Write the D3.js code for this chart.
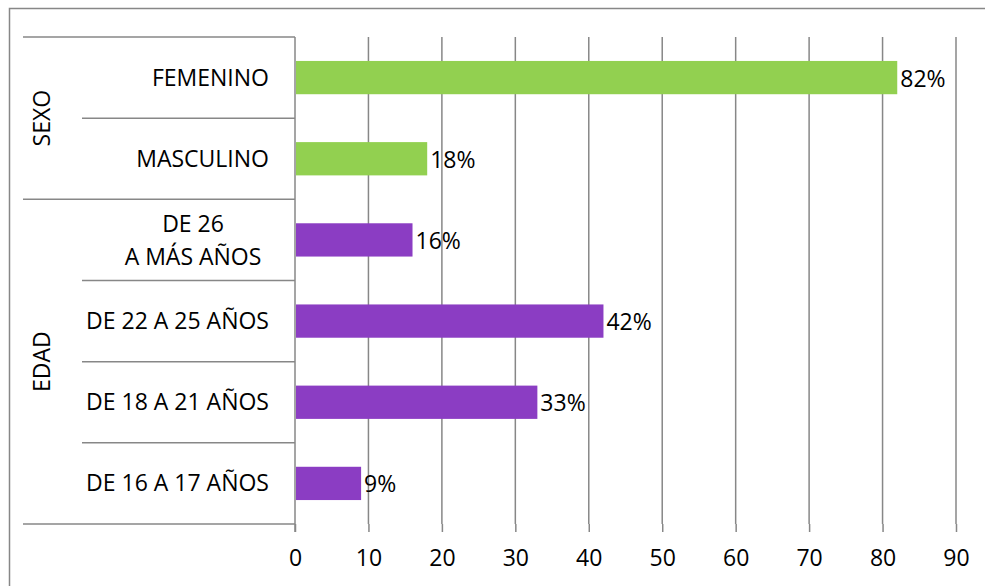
<!DOCTYPE html>
<html>
<head>
<meta charset="utf-8">
<script src="https://cdn.jsdelivr.net/npm/d3@7"></script>
<style>
  html, body { margin: 0; padding: 0; background: #ffffff; }
  svg { display: block; }
  text { font-family: "Open Sans", "Noto Sans", sans-serif; fill: #000; }
</style>
</head>
<body>
<svg id="chart" width="985" height="586"></svg>
<script>
// Category rows, top to bottom, with their group
const categories = ["FEMENINO", "MASCULINO", "DE 26 A MÁS AÑOS", "DE 22 A 25 AÑOS", "DE 18 A 21 AÑOS", "DE 16 A 17 AÑOS"];
const categoryLines = [["FEMENINO"], ["MASCULINO"], ["DE 26", "A MÁS AÑOS"], ["DE 22 A 25 AÑOS"], ["DE 18 A 21 AÑOS"], ["DE 16 A 17 AÑOS"]];
const categoryGroup = ["SEXO", "SEXO", "EDAD", "EDAD", "EDAD", "EDAD"];
const groups = ["SEXO", "EDAD"];
const values = [82, 18, 16, 42, 33, 9];
const xTicks = [0, 10, 20, 30, 40, 50, 60, 70, 80, 90];
const groupColors = { SEXO: "#92d050", EDAD: "#8b3dc3" };

const svg = d3.select("#chart");
const gridColor = "#878787";
const gridWidth = 1.5;
const fontSize = 23;

const plot = { left: 295, right: 956, top: 37, bottom: 524 };
const labelCol = 82;   // start of category-label column
const groupCol = 23;   // start of group-label column

const x = d3.scaleLinear().domain([0, 90]).range([plot.left, plot.right]);
const y = d3.scaleBand().domain(categories).range([plot.top, plot.bottom])
  .paddingInner(0.59).paddingOuter(0.295);

// Outer frame
svg.append("rect")
  .attr("x", 9.5).attr("y", 8.5)
  .attr("width", 1000).attr("height", 600)
  .attr("fill", "none").attr("stroke", gridColor).attr("stroke-width", gridWidth);

// Vertical gridlines
svg.append("g").selectAll("line")
  .data(xTicks.filter(t => t > 0))
  .join("line")
  .attr("x1", d => x(d)).attr("x2", d => x(d))
  .attr("y1", plot.top).attr("y2", plot.bottom)
  .attr("stroke", gridColor).attr("stroke-width", gridWidth);

// Bottom value axis
const xAxis = d3.axisBottom(x).tickValues(xTicks).tickSize(8).tickPadding(18).tickFormat(d3.format("d"));
const gx = svg.append("g").attr("transform", `translate(0,${plot.bottom})`).call(xAxis);
gx.select(".domain").remove();
gx.selectAll(".tick line").attr("stroke", gridColor).attr("stroke-width", gridWidth);
gx.selectAll(".tick text").attr("font-size", fontSize).attr("dy", "0.71em")
  .style("font-family", "'Open Sans', sans-serif");

// Category axis vertical line
svg.append("line")
  .attr("x1", plot.left).attr("x2", plot.left)
  .attr("y1", plot.top).attr("y2", plot.bottom + 8)
  .attr("stroke", gridColor).attr("stroke-width", gridWidth);

// Row boundaries: group boundaries span the group column, others only the label column
const step = y.step();
const boundaries = d3.range(categories.length + 1).map(i => {
  const isGroupEdge = i === 0 || i === categories.length || categoryGroup[i] !== categoryGroup[i - 1];
  return { y: plot.top + i * step, x1: isGroupEdge ? groupCol : labelCol };
});
svg.append("g").selectAll("line")
  .data(boundaries)
  .join("line")
  .attr("x1", d => d.x1).attr("x2", plot.left)
  .attr("y1", d => d.y).attr("y2", d => d.y)
  .attr("stroke", gridColor).attr("stroke-width", gridWidth);

// Bars
const rows = categories.map((c, i) => ({ c, v: values[i], g: categoryGroup[i], lines: categoryLines[i] }));
svg.append("g").selectAll("rect")
  .data(rows)
  .join("rect")
  .attr("x", x(0) + 1)
  .attr("y", d => y(d.c))
  .attr("width", d => x(d.v) - x(0) - 1)
  .attr("height", y.bandwidth())
  .attr("fill", d => groupColors[d.g]);

// Value labels
svg.append("g").selectAll("text")
  .data(rows)
  .join("text")
  .attr("x", d => x(d.v) + 3)
  .attr("y", d => y(d.c) + y.bandwidth() / 2 + 9)
  .attr("font-size", fontSize)
  .text(d => d.v + "%");

// Category labels
const catG = svg.append("g").selectAll("text")
  .data(rows)
  .join("text")
  .attr("font-size", fontSize)
  .attr("text-anchor", d => d.lines.length > 1 ? "middle" : "end")
  .attr("y", d => y(d.c) + y.bandwidth() / 2 + 8 - (d.lines.length - 1) * 16);
catG.selectAll("tspan")
  .data(d => d.lines.map((l, i) => ({ l, i, multi: d.lines.length > 1 })))
  .join("tspan")
  .attr("x", d => d.multi ? 193 : 269)
  .attr("dy", d => d.i === 0 ? 0 : 33)
  .text(d => d.l);

// Group labels (rotated)
groups.forEach(gname => {
  const members = categories.filter((c, i) => categoryGroup[i] === gname);
  const y0 = y(members[0]) - y.step() * y.paddingInner() / 2;
  const y1 = y(members[members.length - 1]) + y.bandwidth() + y.step() * y.paddingInner() / 2;
  const cy = (y0 + y1) / 2;
  svg.append("text")
    .attr("transform", `translate(50,${cy}) rotate(-90)`)
    .attr("text-anchor", "middle")
    .attr("font-size", fontSize)
    .text(gname);
});
</script>
</body>
</html>
